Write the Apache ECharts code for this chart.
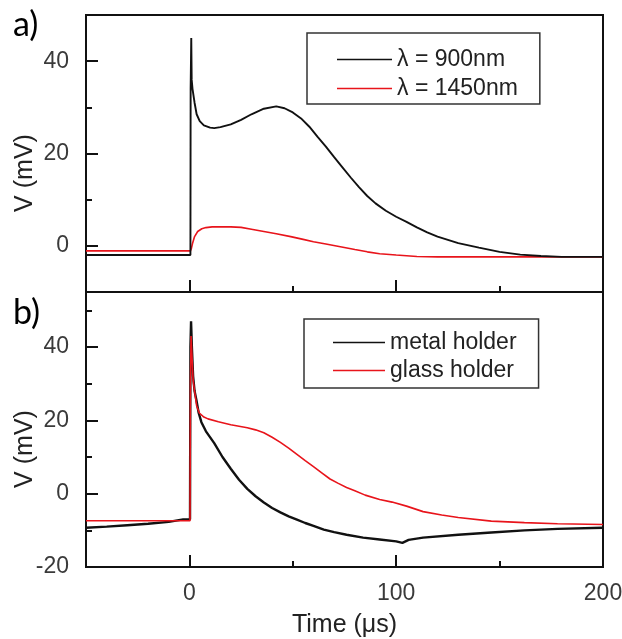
<!DOCTYPE html>
<html><head><meta charset="utf-8">
<script src="https://cdn.jsdelivr.net/npm/echarts@6/dist/echarts.min.js"></script>
<style>html,body{margin:0;padding:0;background:#fff}#c{width:622px;height:639px}</style>
</head><body><div id="c"></div>
<script>
// ---- data ----
const topT900  = [-50, 0.5, 0.6, 0.9, 1.1, 1.5, 2.5, 3.5, 5, 7, 10, 12, 15, 20, 25, 30, 36, 42, 46, 50, 54, 58, 62, 66, 70, 74, 78, 82, 86, 90, 95, 100, 105, 110, 115, 120, 130, 140, 150, 160, 170, 180, 190, 200];
const topV900  = [-2.0, -2.0, 34, 45, 36, 34, 31, 28.5, 27, 26.1, 25.6, 25.5, 25.7, 26.3, 27.3, 28.5, 29.7, 30.2, 29.8, 28.9, 27.6, 25.8, 23.6, 21.5, 19.2, 17.0, 14.8, 12.7, 10.8, 9.2, 7.6, 6.3, 5.2, 4.0, 2.9, 2.0, 0.6, -0.4, -1.3, -1.9, -2.2, -2.4, -2.4, -2.4];
const topT1450 = [-50, 0.5, 1, 1.5, 2.5, 4, 6, 8, 11, 15, 20, 25, 30, 36, 42, 49, 55, 60, 66, 73, 80, 86, 92, 100, 110, 120, 140, 160, 180, 200];
const topV1450 = [-1.1, -1.1, -0.5, 0.5, 2.0, 3.1, 3.7, 3.95, 4.1, 4.1, 4.1, 4.0, 3.6, 3.1, 2.6, 2.0, 1.4, 0.9, 0.4, -0.2, -0.8, -1.3, -1.7, -2.0, -2.3, -2.4, -2.4, -2.4, -2.4, -2.4];
const botTMetal = [-50, -40, -30, -20, -10, -3, 0.3, 0.5, 0.8, 1.2, 1.8, 2.5, 3.4, 4.5, 5.8, 8, 12, 16, 20, 24, 28, 32, 36, 40, 44, 48, 52, 56, 60, 65, 70, 76, 84, 92, 100, 103, 106, 113, 130, 146, 162, 178, 200];
const botVMetal = [-9.3, -9.0, -8.6, -8.2, -7.7, -7.0, -7.0, 40, 47, 40, 32, 28, 25.5, 22, 19.5, 17, 13.8, 10, 6.8, 3.8, 1.3, -0.7, -2.4, -3.9, -5.1, -6.2, -7.1, -8.0, -8.8, -9.8, -10.5, -11.2, -12.0, -12.5, -13.0, -13.4, -12.6, -12.0, -11.2, -10.6, -10.0, -9.6, -9.3];
const botTGlass = [-50, 0.3, 0.5, 0.8, 1.2, 1.8, 2.5, 3.5, 4.8, 7, 9, 14, 20, 28, 32, 36, 40, 44, 48, 52, 56, 60, 64, 68, 72, 76, 80, 85, 92, 98, 105, 113, 122, 130, 146, 162, 178, 200];
const botVGlass = [-7.4, -7.4, 30, 43, 38, 31, 28, 24, 22, 20.9, 20.4, 19.6, 18.8, 18.0, 17.4, 16.6, 15.4, 14.0, 12.4, 10.7, 9.0, 7.4, 5.7, 4.0, 2.8, 1.7, 0.8, -0.4, -1.6, -2.3, -3.4, -4.9, -5.8, -6.5, -7.5, -7.9, -8.2, -8.4];

const seriesNamesTop = ['λ = 900nm', 'λ = 1450nm'];
const seriesNamesBot = ['metal holder', 'glass holder'];

const xMajorTicks = [0, 100, 200];
const xMinorTicks = [50, 150];
const xTickLabels = ['0', '100', '200'];
const yTopMajor = [0, 20, 40];
const yTopMinor = [10, 30];
const yTopLabels = ['0', '20', '40'];
const yBotMajor = [-20, 0, 20, 40];
const yBotMinor = [-10, 10, 30, 50];
const yBotLabels = ['-20', '0', '20', '40'];

const xRange = [-50, 200];
const yTopRange = [-10, 50];
const yBotRange = [-20, 55];

// ---- build ----
const FONT = 'Liberation Sans, Arial, sans-serif';
const LABEL_COLOR = '#3a3a3a';
function pairs(t, v) { return t.map((x, i) => [x, v[i]]); }
function labelFmt(ticks, labels) { return function (val) { const i = ticks.indexOf(val); return i >= 0 ? labels[i] : ''; }; }

// x axes sit "on zero" of a hidden helper y axis whose zero is the grid's bottom edge
function axis(dim, grid, range, ticks, len, labels, extra, zeroRef) {
  const o = {
    type: 'value', gridIndex: grid, min: range[0], max: range[1],
    position: dim === 'x' ? 'bottom' : 'left',
    axisLine: zeroRef != null
      ? { show: false, onZero: true, onZeroAxisIndex: zeroRef }
      : { show: false, onZero: false },
    splitLine: { show: false },
    axisTick: { show: true, inside: true, length: len, customValues: ticks, lineStyle: { color: '#111', width: 2 } },
    axisLabel: labels ? {
      show: true, customValues: ticks, formatter: labelFmt(ticks, labels),
      color: LABEL_COLOR, fontSize: 23, fontFamily: FONT, margin: dim === 'x' ? 15 : 17
    } : { show: false, customValues: ticks }
  };
  return Object.assign(o, extra || {});
}
function helperY(grid) {
  return { type: 'value', gridIndex: grid, min: 0, max: 1, show: false,
           axisLine: { show: false, onZero: false }, splitLine: { show: false } };
}

const legendBase = {
  orient: 'vertical', icon: 'rect', itemHeight: 1.6,
  borderColor: '#333', borderWidth: 1.5, backgroundColor: '#fff',
  textStyle: { fontSize: 23, color: '#222', fontFamily: FONT }
};

const option = {
  animation: false,
  backgroundColor: '#fff',
  grid: [
    { left: 86, top: 15, width: 517, height: 277, show: true, borderColor: '#111', borderWidth: 2, outerBoundsMode: 'none' },
    { left: 86, top: 292, width: 517, height: 275, show: true, borderColor: '#111', borderWidth: 2, outerBoundsMode: 'none' }
  ],
  xAxis: [
    axis('x', 0, xRange, xMajorTicks, 12, null, null, 4),
    axis('x', 0, xRange, xMinorTicks, 6, null, null, 5),
    axis('x', 1, xRange, xMajorTicks, 12, xTickLabels, {
      name: 'Time (μs)', nameLocation: 'middle', nameGap: 46,
      nameTextStyle: { fontSize: 25, color: '#222', fontFamily: FONT }
    }, 6),
    axis('x', 1, xRange, xMinorTicks, 6, null, null, 7)
  ],
  yAxis: [
    axis('y', 0, yTopRange, yTopMajor, 12, yTopLabels),
    axis('y', 0, yTopRange, yTopMinor, 6, null),
    axis('y', 1, yBotRange, yBotMajor, 12, yBotLabels),
    axis('y', 1, yBotRange, yBotMinor, 6, null),
    helperY(0), helperY(0), helperY(1), helperY(1)
  ],
  legend: [
    Object.assign({}, legendBase, {
      data: seriesNamesTop, left: 307, top: 33,
      padding: [15, 22, 4, 30], itemGap: 6, itemWidth: 55
    }),
    Object.assign({}, legendBase, {
      data: seriesNamesBot, left: 304, top: 319,
      padding: [12, 22, 6, 29], itemGap: 5, itemWidth: 52
    })
  ],
  series: [
    { name: seriesNamesTop[1], type: 'line', xAxisIndex: 0, yAxisIndex: 0, data: pairs(topT1450, topV1450), symbol: 'none', lineStyle: { color: '#e8141b', width: 1.6 }, itemStyle: { color: '#e8141b' } },
    { name: seriesNamesTop[0], type: 'line', xAxisIndex: 0, yAxisIndex: 0, data: pairs(topT900, topV900), symbol: 'none', lineStyle: { color: '#111', width: 1.9 }, itemStyle: { color: '#111' } },
    { name: seriesNamesBot[0], type: 'line', xAxisIndex: 2, yAxisIndex: 2, data: pairs(botTMetal, botVMetal), symbol: 'none', lineStyle: { color: '#111', width: 2.4 }, itemStyle: { color: '#111' } },
    { name: seriesNamesBot[1], type: 'line', xAxisIndex: 2, yAxisIndex: 2, data: pairs(botTGlass, botVGlass), symbol: 'none', lineStyle: { color: '#e8141b', width: 1.6 }, itemStyle: { color: '#e8141b' } }
  ],
  graphic: [
    { type: 'text', left: 13, top: 8, style: { text: 'a)', fontSize: 34, fontFamily: 'Lato, ' + FONT, fill: '#000' } },
    { type: 'text', left: 13, top: 296, style: { text: 'b)', fontSize: 34, fontFamily: 'Lato, ' + FONT, fill: '#000' } },
    { type: 'text', x: 25, y: 173, rotation: Math.PI / 2, style: { text: 'V (mV)', fontSize: 25, fontFamily: FONT, fill: '#222', align: 'center', verticalAlign: 'middle' } },
    { type: 'text', x: 25, y: 449, rotation: Math.PI / 2, style: { text: 'V (mV)', fontSize: 25, fontFamily: FONT, fill: '#222', align: 'center', verticalAlign: 'middle' } }
  ]
};
const chart = echarts.init(document.getElementById('c'), null, { renderer: 'canvas' });
chart.setOption(option);
</script></body></html>
